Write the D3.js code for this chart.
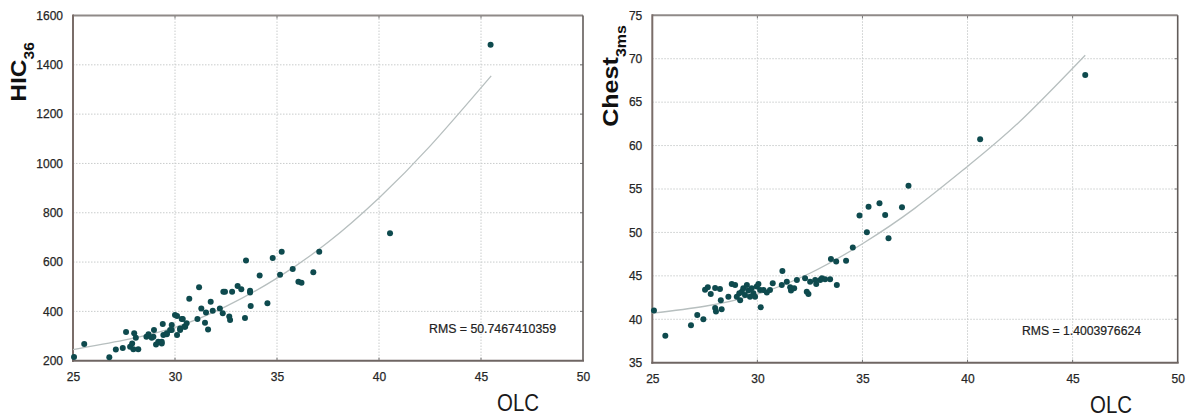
<!DOCTYPE html>
<html>
<head>
<meta charset="utf-8">
<script src="https://cdn.jsdelivr.net/npm/d3@7"></script>
<style>
  html, body { margin: 0; padding: 0; background: #fff; }
  svg { display: block; }
  .tick text { font-family: "Liberation Sans", Arial, sans-serif; font-size: 12px; fill: #262626; stroke: #262626; stroke-width: 0.25px; }
</style>
</head>
<body>
<svg id="chart" width="1187" height="417"></svg>
<script>
// Shared x axis (OLC) and per-panel y axis ticks
const olcTicks = [25, 30, 35, 40, 45, 50];
const hicTicks = [200, 400, 600, 800, 1000, 1200, 1400, 1600];
const chestTicks = [35, 40, 45, 50, 55, 60, 65, 70, 75];

// HIC36 versus OLC
const hicOlc = [25.05, 25.55, 26.78, 27.1, 27.44, 27.6, 27.8, 27.9, 27.96, 28.0, 28.08, 28.2,
  28.6, 28.7, 28.86, 28.94, 28.97, 29.07, 29.18, 29.35, 29.35, 29.4, 29.43, 29.6, 29.6, 29.76,
  29.84, 29.84, 30.0, 30.1, 30.1, 30.25, 30.25, 30.33, 30.38, 30.46, 30.5, 30.57, 30.7, 31.1,
  31.18, 31.29, 31.47, 31.52, 31.62, 31.75, 31.85, 32.2, 32.34, 32.37, 32.45, 32.66, 32.7,
  32.8, 33.07, 33.25, 33.43, 33.48, 33.68, 33.68, 33.71, 34.15, 34.53, 34.79, 35.15, 35.23,
  35.77, 36.05, 36.2, 36.78, 37.07, 40.54, 45.47];
const hicValues = [215, 268, 214, 245, 251, 316, 257, 270, 246, 311, 293, 246,
  297, 307, 293, 297, 325, 266, 277, 270, 277, 349, 304, 311, 307, 325,
  345, 325, 385, 381, 304, 325, 331, 369, 369, 338, 338, 352, 451, 369,
  498, 412, 354, 395, 327, 439, 403, 412, 392, 480, 480, 379, 365,
  480, 503, 490, 373, 606, 484, 477, 422, 546, 433, 617, 549, 642,
  572, 520, 516, 559, 642, 717, 1481];
const hicFitOlc = [25, 27.5, 30, 32.5, 35, 37.5, 40, 42.5, 45.5];
const hicFitValues = [245, 283, 335, 420, 535, 680, 860, 1070, 1355];

// Chest 3ms versus OLC
const chestOlc = [25.08, 25.62, 26.84, 27.14, 27.43, 27.51, 27.64, 27.78, 27.99, 27.99, 28.03,
  28.22, 28.26, 28.3, 28.62, 28.78, 28.94, 29.02, 29.14, 29.18, 29.26, 29.33, 29.41, 29.5,
  29.57, 29.65, 29.73, 29.81, 29.89, 29.97, 30.05, 30.13, 30.16, 30.29, 30.45, 30.6, 30.73,
  31.16, 31.19, 31.4, 31.56, 31.6, 31.75, 31.88, 32.27, 32.35, 32.43, 32.51, 32.75, 32.8,
  32.99, 33.07, 33.22, 33.46, 33.5, 33.75, 33.78, 34.22, 34.54, 34.86, 35.21, 35.29, 35.81,
  36.08, 36.24, 36.88, 37.19, 40.6, 45.6];
const chestValues = [41.0, 38.1, 39.3, 40.5, 40.0, 43.4, 43.7, 42.9, 43.6, 41.3, 40.9,
  43.5, 42.2, 41.15, 42.6, 44.07, 43.95, 42.6, 43.0, 42.2, 43.18, 43.57, 42.8, 43.95,
  43.3, 42.6, 43.57, 43.0, 42.6, 43.76, 44.07, 43.38, 41.38, 43.38, 43.07, 43.38, 44.15,
  43.95, 45.57, 44.33, 43.69, 43.3, 43.57, 44.53, 44.72, 43.18, 42.92, 44.33, 44.53, 44.07,
  44.53, 44.72, 44.61, 44.61, 46.95, 46.64, 43.95, 46.75, 48.25, 51.94, 50.02, 52.97, 53.36,
  52.0, 49.33, 52.9, 55.36, 60.73, 68.14];
const chestFitOlc = [25, 27.5, 30, 32.5, 35, 37.5, 40, 42.5, 45.6];
const chestFitValues = [40.7, 41.5, 42.9, 45.3, 48.7, 52.8, 57.6, 62.8, 70.4];

const svg = d3.select("#chart");
const FONT = "'Liberation Sans', Arial, sans-serif";

// Factor that stretches a text along its own x direction to the wanted length
function fitLength(textNode, wanted) {
  const w = textNode.getBBox().width;
  return w > 0 ? wanted / w : 1;
}

function drawPanel(o) {
  const x = d3.scaleLinear().domain([25, 50]).range([o.left, o.right]);
  const y = d3.scaleLinear().domain([o.yTicks[0], o.yTicks[o.yTicks.length - 1]]).range([o.bottom, o.top]);
  const g = svg.append("g");

  // dotted grid
  g.append("g").selectAll("line").data(olcTicks.slice(1, -1)).join("line")
    .attr("x1", d => x(d)).attr("x2", d => x(d)).attr("y1", o.top).attr("y2", o.bottom)
    .attr("stroke", "#c9cccc").attr("stroke-width", 1).attr("stroke-dasharray", "1.5,1.5");
  g.append("g").selectAll("line").data(o.yTicks.slice(1, -1)).join("line")
    .attr("x1", o.left).attr("x2", o.right).attr("y1", d => y(d)).attr("y2", d => y(d))
    .attr("stroke", "#c9cccc").attr("stroke-width", 1).attr("stroke-dasharray", "1.5,1.5");

  // small inner ticks on the frame
  g.append("g").selectAll("line").data(olcTicks.slice(1, -1)).join("line")
    .attr("x1", d => x(d)).attr("x2", d => x(d)).attr("y1", o.top).attr("y2", o.top + 3)
    .attr("stroke", "#777").attr("stroke-width", 1);
  g.append("g").selectAll("line").data(olcTicks.slice(1, -1)).join("line")
    .attr("x1", d => x(d)).attr("x2", d => x(d)).attr("y1", o.bottom).attr("y2", o.bottom - 3)
    .attr("stroke", "#777").attr("stroke-width", 1);
  g.append("g").selectAll("line").data(o.yTicks.slice(1, -1)).join("line")
    .attr("x1", o.right).attr("x2", o.right - 3).attr("y1", d => y(d)).attr("y2", d => y(d))
    .attr("stroke", "#777").attr("stroke-width", 1);

  // frame
  g.append("line").attr("x1", o.left).attr("x2", o.right).attr("y1", o.top).attr("y2", o.top)
    .attr("stroke", "#8f8a88").attr("stroke-width", 2);
  g.append("line").attr("x1", o.right).attr("x2", o.right).attr("y1", o.top).attr("y2", o.bottom)
    .attr("stroke", "#625c5a").attr("stroke-width", 1.6);
  g.append("line").attr("x1", o.left).attr("x2", o.left).attr("y1", o.top - 1).attr("y2", o.bottom + 1)
    .attr("stroke", "#7a6d69").attr("stroke-width", 2);
  g.append("line").attr("x1", o.left - 1).attr("x2", o.right + 1).attr("y1", o.bottom).attr("y2", o.bottom)
    .attr("stroke", "#6f6663").attr("stroke-width", 2);

  // tick labels
  const ax = g.append("g").attr("transform", `translate(0,${o.bottom})`)
    .call(d3.axisBottom(x).tickValues(olcTicks).tickSize(0).tickPadding(o.xPad).tickFormat(d3.format("d")));
  ax.select(".domain").remove();
  const ay = g.append("g").attr("transform", `translate(${o.left},0)`)
    .call(d3.axisLeft(y).tickValues(o.yTicks).tickSize(0).tickPadding(o.yPad).tickFormat(d3.format("d")));
  ay.select(".domain").remove();

  // fitted curve
  const fit = d3.zip(o.fitX, o.fitY);
  g.append("path").datum(fit)
    .attr("d", d3.line().x(d => x(d[0])).y(d => y(d[1])).curve(d3.curveNatural))
    .attr("fill", "none").attr("stroke", "#b7bfbf").attr("stroke-width", 1.3);

  // observations
  g.append("g").selectAll("circle").data(d3.zip(o.xs, o.ys)).join("circle")
    .attr("cx", d => x(d[0])).attr("cy", d => y(d[1])).attr("r", 3)
    .attr("fill", "#0e4a4e");

  // RMS annotation
  g.append("text").attr("x", o.rmsX).attr("y", o.rmsY)
    .attr("font-family", FONT).attr("font-size", 12).attr("fill", "#222")
    .attr("stroke", "#222").attr("stroke-width", 0.2)
    .attr("textLength", o.rmsW).attr("lengthAdjust", "spacingAndGlyphs")
    .text(o.rms);

  // y axis title with subscript
  const yl = g.append("g");
  const yt = yl.append("text").attr("font-family", FONT).attr("font-weight", "bold")
    .attr("font-size", 22).attr("fill", "#111").attr("text-anchor", "middle");
  yt.append("tspan").text(o.yMain);
  yt.append("tspan").attr("font-size", 14).attr("dy", 8).text(o.ySub);
  const k = fitLength(yt.node(), o.yLen);
  yl.attr("transform", `translate(${o.yLabelX},${o.yLabelY}) rotate(-90) scale(${k},1)`);

  // x axis title
  const xl = g.append("g");
  const xt = xl.append("text").attr("font-family", FONT).attr("font-size", 23)
    .attr("fill", "#1a1a1a").attr("text-anchor", "middle").text("OLC");
  const kx = fitLength(xt.node(), 42);
  xl.attr("transform", `translate(${o.olcX},${o.olcY}) scale(${kx},1)`);
}

drawPanel({
  left: 73, right: 583, top: 15.5, bottom: 360.7,
  yTicks: hicTicks, xs: hicOlc, ys: hicValues, fitX: hicFitOlc, fitY: hicFitValues,
  xPad: 12, yPad: 10,
  rms: "RMS = 50.7467410359", rmsX: 429, rmsY: 332.5, rmsW: 127,
  yMain: "HIC", ySub: "36", yLabelX: 26, yLabelY: 72, yLen: 60,
  olcX: 518, olcY: 411
});

drawPanel({
  left: 652.3, right: 1177.7, top: 15.3, bottom: 362.7,
  yTicks: chestTicks, xs: chestOlc, ys: chestValues, fitX: chestFitOlc, fitY: chestFitValues,
  xPad: 12, yPad: 10,
  rms: "RMS = 1.4003976624", rmsX: 1022, rmsY: 335, rmsW: 119,
  yMain: "Chest", ySub: "3ms", yLabelX: 618, yLabelY: 76, yLen: 102,
  olcX: 1111, olcY: 413
});
</script>
</body>
</html>
